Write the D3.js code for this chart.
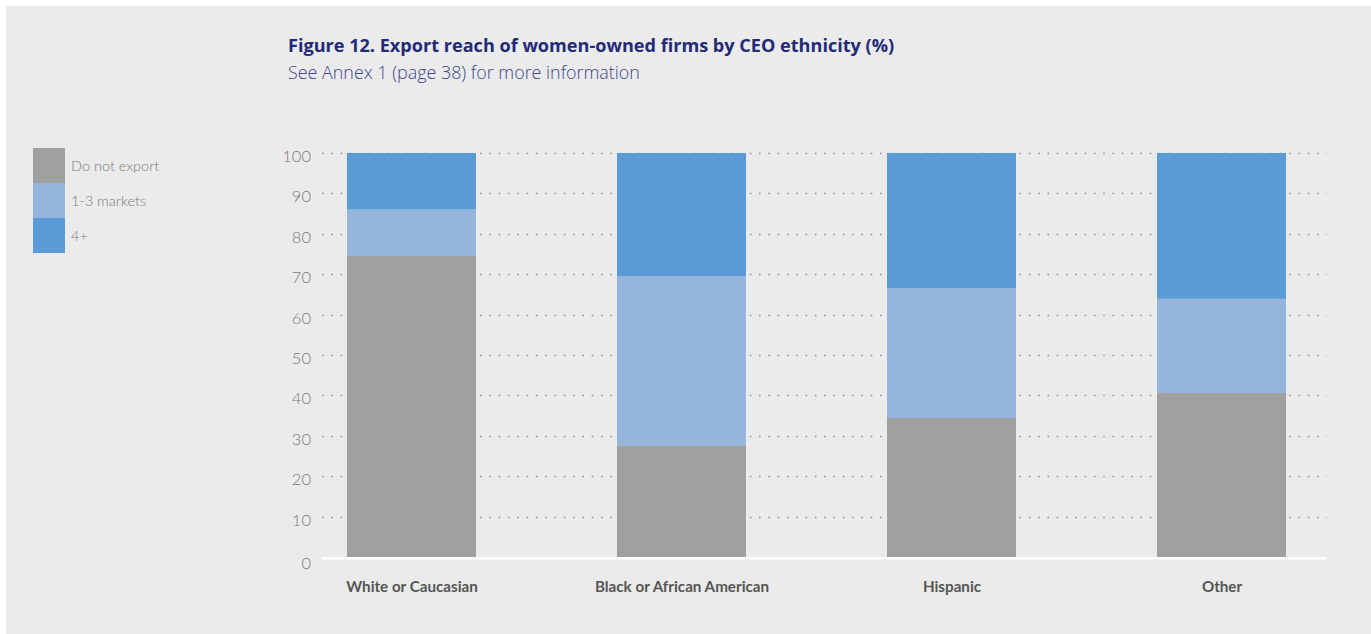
<!DOCTYPE html>
<html>
<head>
<meta charset="utf-8">
<script src="https://cdn.jsdelivr.net/npm/d3@7"></script>
<style>
  html, body { margin: 0; padding: 0; background: #ffffff; }
  svg { display: block; }
</style>
</head>
<body>
<svg id="chart" width="1371" height="634"></svg>
<script>
// Export reach of women-owned firms by CEO ethnicity (%)
const categories = ["White or Caucasian", "Black or African American", "Hispanic", "Other"];
const seriesNames = ["Do not export", "1-3 markets", "4+"];
const doNotExport = [74.5, 27.5, 34.4, 40.6];
const oneToThree  = [11.5, 42.0, 32.2, 23.3];
const fourPlus    = [14.0, 30.5, 33.4, 36.1];
const yTicks = [0, 10, 20, 30, 40, 50, 60, 70, 80, 90, 100];

const colors = ["#a0a0a0", "#96b5dd", "#5a9bd5"];

const rows = categories.map((c, i) => ({
  category: c,
  "Do not export": doNotExport[i],
  "1-3 markets": oneToThree[i],
  "4+": fourPlus[i]
}));

const svg = d3.select("#chart");
const W = 1371, H = 634;

// panel background
svg.append("rect").attr("x", 6).attr("y", 6).attr("width", W - 6).attr("height", H - 6)
  .attr("fill", "#ebebeb");

// titles
svg.append("text").attr("x", 288).attr("y", 52)
  .attr("font-family", "'Open Sans', sans-serif")
  .attr("font-size", 18.1).attr("font-weight", 700).attr("fill", "#232a78")
  .text("Figure 12. Export reach of women-owned firms by CEO ethnicity (%)");
svg.append("text").attr("x", 288).attr("y", 79)
  .attr("font-family", "'Open Sans', sans-serif")
  .attr("font-size", 17.9).attr("font-weight", 300).attr("fill", "#3b4590")
  .text("See Annex 1 (page 38) for more information");

// plot area
const x0 = 322, x1 = 1327, yTop = 153, yBot = 557;
const x = d3.scalePoint().domain(categories).range([411.5, 1221.5]);
const y = d3.scaleLinear().domain([0, 100]).range([yBot, yTop]);

// dotted gridlines
const grid = svg.append("g");
yTicks.filter(t => t > 0).forEach(t => {
  grid.append("line")
    .attr("x1", x0).attr("x2", x1)
    .attr("y1", Math.round(y(t)) + 0.5).attr("y2", Math.round(y(t)) + 0.5)
    .attr("stroke", "#8a90b4").attr("stroke-width", 1.6)
    .attr("stroke-dasharray", "1.6 7.7");
});

// y axis labels (the zero label sits a little lower, under the baseline)
const yAxis = d3.axisLeft(y).tickValues(yTicks).tickSize(0).tickPadding(0);
const yg = svg.append("g").attr("transform", `translate(311,0)`).call(yAxis);
yg.select(".domain").remove();
yg.selectAll("text").attr("font-family", "Lato, sans-serif").attr("font-size", 16.5)
  .attr("font-weight", 300).attr("fill", "#7a7a7a")
  .attr("dy", "0.36em")
  .attr("y", d => d === 0 ? 6 : 2.5);

// stacked bars
const stack = d3.stack().keys(seriesNames)(rows);
const bw = 129;
svg.append("g").selectAll("g").data(stack).join("g")
  .attr("fill", (d, i) => colors[i])
  .selectAll("rect").data(d => d).join("rect")
  .attr("x", d => x(d.data.category) - bw / 2)
  .attr("width", bw)
  .attr("y", d => y(d[1]))
  .attr("height", d => y(d[0]) - y(d[1]));

// baseline
svg.append("line").attr("x1", x0).attr("x2", x1 - 1)
  .attr("y1", yBot + 1.3).attr("y2", yBot + 1.3)
  .attr("stroke", "#ffffff").attr("stroke-width", 2.6);

// x axis labels
const xAxis = d3.axisBottom(x).tickSize(0).tickPadding(0);
const xg = svg.append("g").attr("transform", `translate(0,${yBot})`).call(xAxis);
xg.select(".domain").remove();
xg.selectAll("text").attr("font-family", "Lato, sans-serif").attr("font-size", 15.2)
  .attr("font-weight", 700).attr("fill", "#555555").attr("y", 35).attr("dy", 0);

// legend
const lg = svg.append("g");
seriesNames.forEach((s, i) => {
  lg.append("rect").attr("x", 33).attr("y", 148 + i * 35).attr("width", 32).attr("height", 35)
    .attr("fill", colors[i]);
  lg.append("text").attr("x", 71).attr("y", 171 + i * 35)
    .attr("font-family", "Lato, sans-serif")
    .attr("font-size", 14.5).attr("font-weight", 300).attr("fill", "#7a7a7a").text(s);
});
</script>
</body>
</html>
